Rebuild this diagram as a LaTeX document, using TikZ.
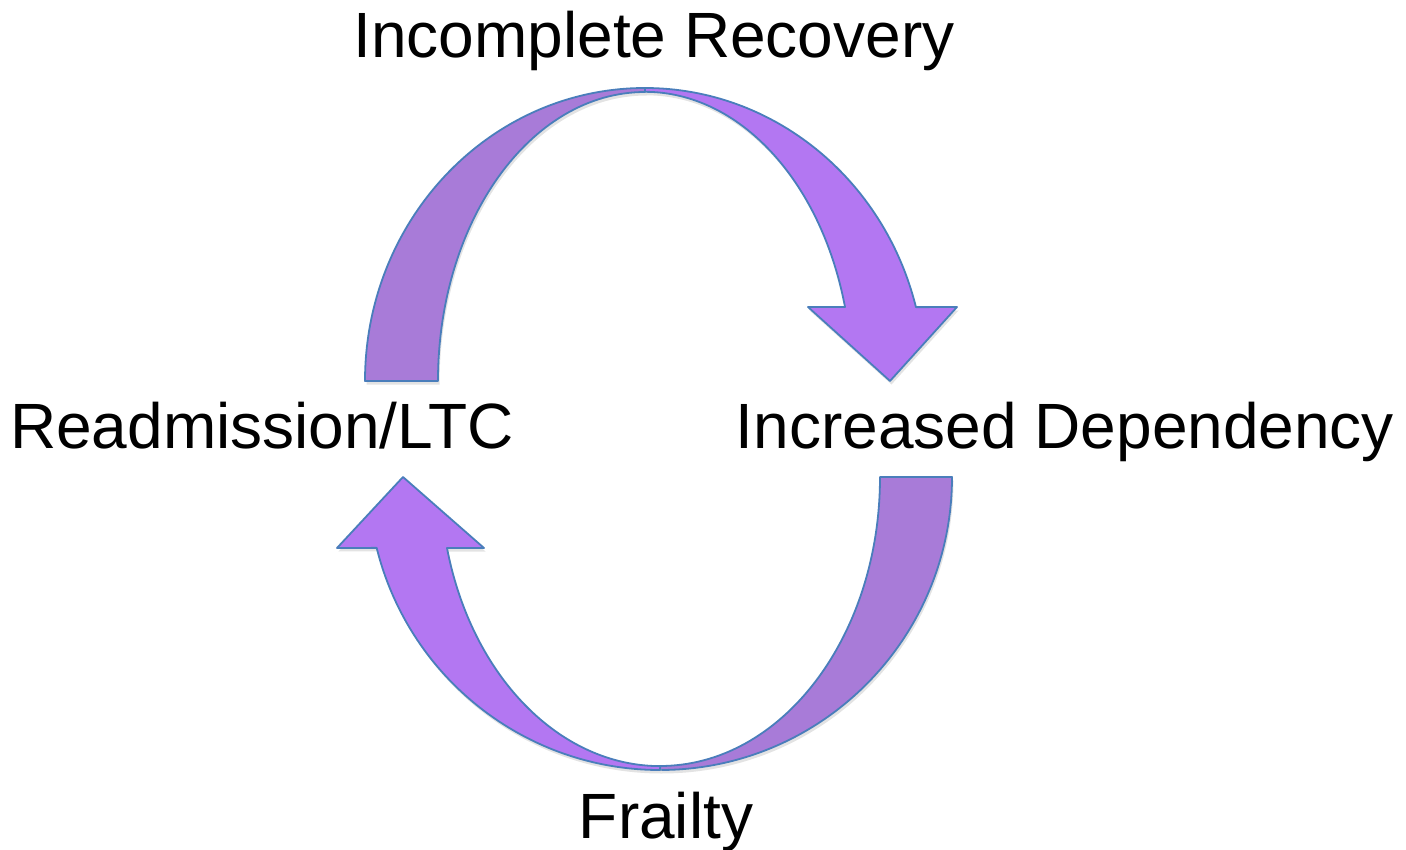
\documentclass[tikz,border=0pt]{standalone}
\usepackage{fontspec}
\setmainfont{Liberation Sans}
\usetikzlibrary{shadows}
\definecolor{arcdark}{HTML}{A87BD8}
\definecolor{arclight}{HTML}{B377F2}
\definecolor{arcline}{HTML}{4A7EBB}

\begin{document}
\begin{tikzpicture}[x=1pt,y=-1pt]

  % Definitions
  \tikzstyle{stage} = [font=\fontsize{64}{77}\selectfont, anchor=base, inner sep=0pt]
  \tikzstyle{arcback} = [fill=arcdark, draw=arcline, line width=1.8pt, line join=round, drop shadow={shadow xshift=1.5pt, shadow yshift=-3.5pt, fill=black!22}]
  \tikzstyle{arcfront} = [arcback, fill=arclight]

  \useasboundingbox (0,0) rectangle (1406,850);

  \node (recovery) [stage] at (654,58) {Incomplete Recovery};
  \node (readmit) [stage] at (262,448) {Readmission/LTC};
  \node (depend) [stage] at (1065,448) {Increased Dependency};
  \node (frailty) [stage] at (666,838) {Frailty};

  % upper arrow
  \draw [arcback] (365,381) arc[start angle=180, end angle=270, x radius=280, y radius=293]
    -- (645,92) arc[start angle=270, end angle=180, x radius=207, y radius=289] -- cycle;
  \draw [arcfront] (645,88) arc[start angle=270, end angle=345.4, x radius=280, y radius=293]
    -- (957,307) -- (890,381) -- (808,307) -- (845,307)
    arc[start angle=345.2, end angle=270, x radius=207, y radius=289] -- cycle;

  % lower arrow
  \draw [arcback] (952,477) arc[start angle=0, end angle=90, x radius=292, y radius=293]
    -- (660,766) arc[start angle=90, end angle=0, x radius=220, y radius=289] -- cycle;
  \draw [arcfront] (660,770) arc[start angle=90, end angle=166, x radius=292, y radius=293]
    -- (337,548) -- (403,477) -- (484,548) -- (447,548)
    arc[start angle=165.8, end angle=90, x radius=220, y radius=289] -- cycle;

\end{tikzpicture}
\end{document}
